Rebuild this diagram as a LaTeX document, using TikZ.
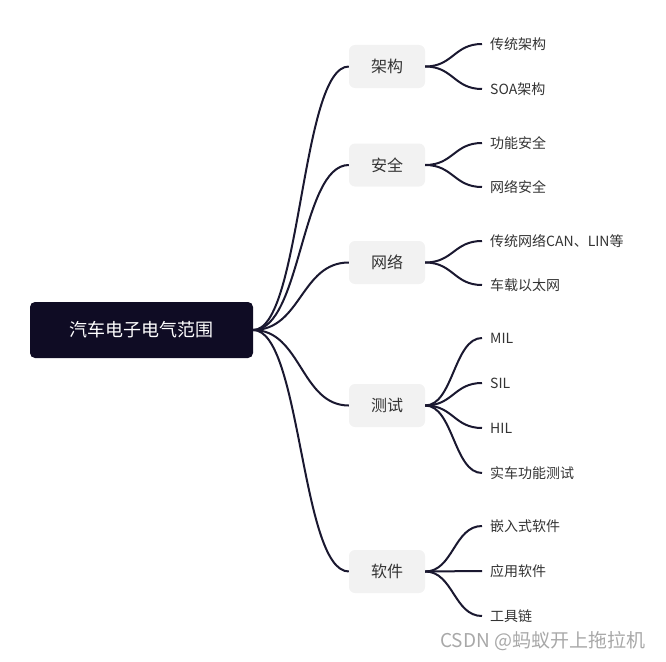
\documentclass[tikz,border=0pt]{standalone}
\usepackage{fontspec}
\setmainfont{Noto Sans CJK SC}
\definecolor{rootfill}{HTML}{0F0C24}
\definecolor{branchfill}{HTML}{F2F2F2}
\definecolor{linecol}{HTML}{1A1830}
\definecolor{txtcol}{HTML}{333333}
\definecolor{wmcol}{HTML}{A8A8A8}
\begin{document}
\begin{tikzpicture}[x=1pt,y=-1pt,
  rootbox/.style={fill=rootfill,rounded corners=5pt,minimum width=223pt,minimum height=56pt,inner sep=0pt,text=white,font=\fontsize{18pt}{20pt}\selectfont},
  branchbox/.style={fill=branchfill,rounded corners=6pt,minimum width=76pt,minimum height=43pt,inner sep=0pt,text=txtcol,font=\fontsize{16pt}{18pt}\selectfont},
  leaf/.style={anchor=west,inner xsep=8pt,inner ysep=2pt,text=txtcol,font=\fontsize{14pt}{16pt}\selectfont},
  conn/.style={draw=linecol,line width=2pt}]
\useasboundingbox (0,0) rectangle (666,661);
\node[rootbox] (root) at (141.5,330) {汽车电子电气范围};
\node[branchbox] (b1) at (387,66.5) {架构};
\node[branchbox] (b2) at (387,165) {安全};
\node[branchbox] (b3) at (387,262.5) {网络};
\node[branchbox] (b4) at (387,405.5) {测试};
\node[branchbox] (b5) at (387,571.5) {软件};
\node[leaf] (l11) at (482,44) {传统架构};
\node[leaf] (l12) at (482,89) {SOA架构};
\node[leaf] (l21) at (482,143) {功能安全};
\node[leaf] (l22) at (482,187) {网络安全};
\node[leaf] (l31) at (482,241) {传统网络CAN、LIN等};
\node[leaf] (l32) at (482,285) {车载以太网};
\node[leaf] (l41) at (482,338) {MIL};
\node[leaf] (l42) at (482,383) {SIL};
\node[leaf] (l43) at (482,428) {HIL};
\node[leaf] (l44) at (482,473) {实车功能测试};
\node[leaf] (l51) at (482,526) {嵌入式软件};
\node[leaf] (l52) at (482,571) {应用软件};
\node[leaf] (l53) at (482,616) {工具链};
\foreach \b in {b1,b2,b3,b4,b5}{
  \draw[conn] (root.east) .. controls ([xshift=48pt]root.east |- root.east) and ([xshift=-48pt]\b.west) .. (\b.west);
}
\foreach \b/\l in {b1/l11,b1/l12,b2/l21,b2/l22,b3/l31,b3/l32,b4/l41,b4/l42,b4/l43,b4/l44,b5/l51,b5/l52,b5/l53}{
  \draw[conn] (\b.east) .. controls ([xshift=28pt]\b.east) and ([xshift=-28pt]\l.west) .. (\l.west);
}
\node[text=wmcol,font=\fontsize{19pt}{21pt}\selectfont,anchor=west,inner sep=0pt] (wm) at (440,641) {CSDN @蚂蚁开上拖拉机};
\end{tikzpicture}
\end{document}
